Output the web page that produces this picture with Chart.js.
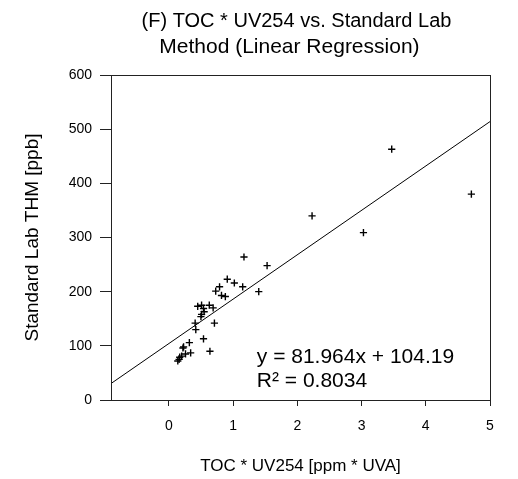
<!DOCTYPE html>
<html><head><meta charset="utf-8">
<script src="https://cdn.jsdelivr.net/npm/chart.js@4/dist/chart.umd.min.js"></script>
<style>html,body{margin:0;padding:0;background:#fff;} #wrap{width:518px;height:479px;position:relative;}</style>
</head><body><div id="wrap"><canvas id="c"></canvas></div>
<script>
const titleLines = ["(F) TOC * UV254 vs. Standard Lab", " Method (Linear Regression)"];
const xAxisTitle = "TOC * UV254 [ppm * UVA]";
const yAxisTitle = "Standard Lab THM [ppb]";
const xTicks = [0, 1, 2, 3, 4, 5];
const yTicks = [0, 100, 200, 300, 400, 500, 600];
const tocUv = [3.47, 4.71, 2.23, 3.03, 1.17, 1.53, 1.40, 0.91, 1.02, 1.15, 0.79, 0.73, 0.82, 0.88, 0.45, 0.51, 0.63, 0.69, 0.54, 0.55, 0.51, 0.50, 0.41, 0.71, 0.42, 0.54, 0.32, 0.23, 0.22, 0.64, 0.34, 0.26, 0.20, 0.17, 0.16, 0.14];
const thm = [463, 380, 340, 309, 264, 248, 200, 223, 216, 209, 209, 201, 193, 191, 173, 175, 175, 170, 169, 163, 158, 154, 142, 142, 130, 113, 106, 98, 96, 90, 87, 85, 81, 79, 75, 72];
const fitX = [-0.9, 5];
const fitY = [30.4, 514.0];
const equationLines = ["y = 81.964x + 104.19", "R\u00B2 = 0.8034"];
const equationAnchor = [1.37, 79];

const FONT = "'Liberation Sans', Arial, sans-serif";

const extras = {
  id: 'extras',
  afterDraw(chart) {
    const {ctx, chartArea: a, scales} = chart;
    ctx.save();
    ctx.strokeStyle = '#222';
    ctx.lineWidth = 1;
    ctx.strokeRect(a.left + 0.5, a.top + 0.5, a.right - a.left, a.bottom - a.top);
    ctx.fillStyle = '#000';
    ctx.textAlign = 'center';
    ctx.textBaseline = 'middle';
    ctx.font = "20px " + FONT;
    const cx = (a.left + a.right) / 2;
    ctx.fillText(titleLines[0], cx - 4, 21);
    ctx.font = "21px " + FONT;
    ctx.fillText(titleLines[1], cx - 14, 47);
    ctx.textAlign = 'left';
    ctx.font = "21px " + FONT;
    const ex = scales.x.getPixelForValue(equationAnchor[0]);
    const ey = scales.y.getPixelForValue(equationAnchor[1]);
    ctx.fillText(equationLines[0], ex, ey);
    ctx.fillText(equationLines[1], ex, ey + 24);
    ctx.restore();
  }
};

new Chart(document.getElementById('c'), {
  type: 'scatter',
  data: {
    datasets: [
      {
        label: 'data',
        data: tocUv.map((x, i) => ({x, y: thm[i]})),
        pointStyle: 'cross',
        pointRadius: 3.6,
        pointBorderWidth: 1.4,
        borderColor: '#000',
        backgroundColor: '#000',
        showLine: false
      },
      {
        label: 'fit',
        type: 'line',
        data: fitX.map((x, i) => ({x, y: fitY[i]})),
        borderColor: '#000',
        borderWidth: 1,
        pointRadius: 0,
        fill: false
      }
    ]
  },
  plugins: [extras],
  options: {
    responsive: true,
    maintainAspectRatio: false,
    animation: false,
    layout: {padding: {left: 0, right: 28, top: 75, bottom: 0}},
    plugins: {legend: {display: false}, tooltip: {enabled: false}, title: {display: false}},
    scales: {
      x: {
        type: 'linear', min: -0.9, max: 5,
        afterBuildTicks: s => { s.ticks = xTicks.map(v => ({value: v})); },
        afterFit: s => { s.height = 79; },
        grid: {drawOnChartArea: false, drawTicks: true, tickLength: 6, color: '#222'},
        border: {display: true, color: '#222', width: 1},
        ticks: {color: '#000', font: {family: FONT, size: 14}, padding: 12, maxRotation: 0},
        title: {display: true, text: xAxisTitle, color: '#000', font: {family: FONT, size: 17}, padding: {top: 0, bottom: 2}}
      },
      y: {
        type: 'linear', min: 0, max: 600,
        afterBuildTicks: s => { s.ticks = yTicks.map(v => ({value: v})); },
        afterFit: s => { s.width = 111; },
        grid: {drawOnChartArea: false, drawTicks: true, tickLength: 11, color: '#222'},
        border: {display: true, color: '#222', width: 1},
        ticks: {color: '#000', font: {family: FONT, size: 14}, padding: 8},
        title: {display: true, text: yAxisTitle, color: '#000', font: {family: FONT, size: 19}, padding: {top: 21, bottom: 0}}
      }
    }
  }
});
</script></body></html>
